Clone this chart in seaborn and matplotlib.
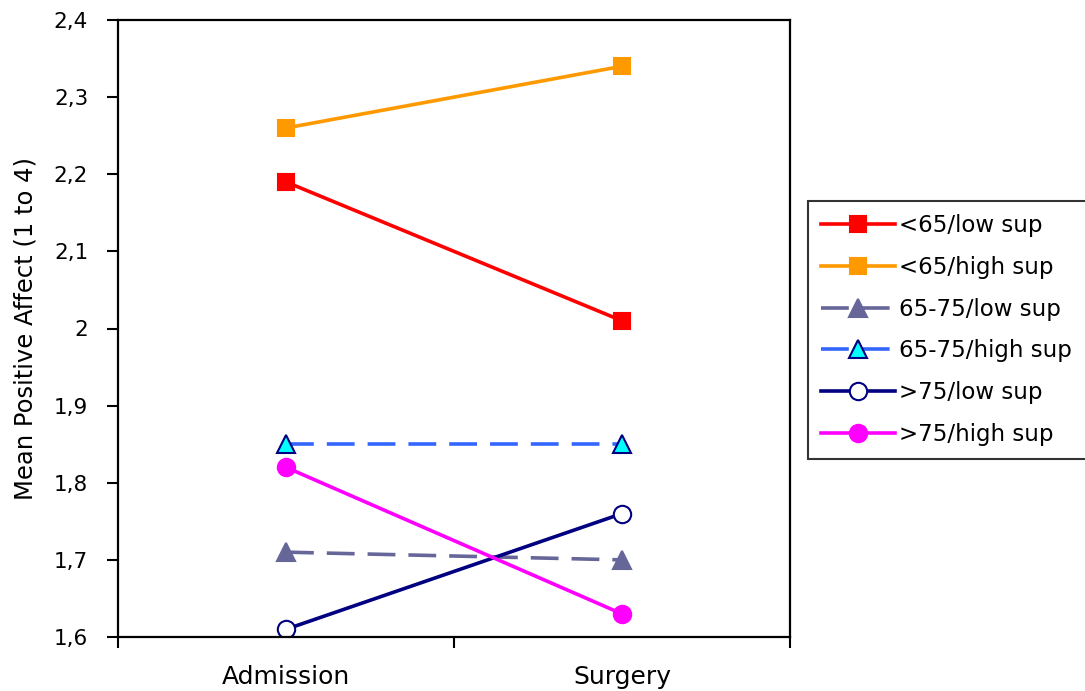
import matplotlib
matplotlib.use('Agg')
import matplotlib.pyplot as plt
from matplotlib.ticker import FuncFormatter, FixedLocator
import seaborn as sns

stages = ['Admission', 'Surgery']
groups = ['<65/low sup', '<65/high sup', '65-75/low sup', '65-75/high sup', '>75/low sup', '>75/high sup']
lt65_low = [2.19, 2.01]
lt65_high = [2.26, 2.34]
mid_low = [1.71, 1.70]
mid_high = [1.85, 1.85]
gt75_low = [1.61, 1.76]
gt75_high = [1.82, 1.63]
values = [lt65_low, lt65_high, mid_low, mid_high, gt75_low, gt75_high]

styles = [
    dict(color='#FF0000', marker='s', markerfacecolor='#FF0000', markeredgecolor='#FF0000', linestyle='-'),
    dict(color='#FF9900', marker='s', markerfacecolor='#FF9900', markeredgecolor='#FF9900', linestyle='-'),
    dict(color='#666699', marker='^', markerfacecolor='#666699', markeredgecolor='#666699', linestyle='--'),
    dict(color='#3366FF', marker='^', markerfacecolor='#00FFFF', markeredgecolor='#000080', linestyle='--'),
    dict(color='#000080', marker='o', markerfacecolor='white', markeredgecolor='#000080', linestyle='-'),
    dict(color='#FF00FF', marker='o', markerfacecolor='#FF00FF', markeredgecolor='#FF00FF', linestyle='-'),
]

fig = plt.figure(figsize=(10.85, 6.91), dpi=100)
ax = fig.add_axes([118/1085, 1 - 637/691, (790-118)/1085, (637-20)/691])

for name, vals, st in zip(groups, values, styles):
    ms = 12 if st['marker'] == 's' else 12.5
    sns.lineplot(x=stages, y=vals, ax=ax, label=name, linewidth=2.6, markersize=ms,
                 markeredgewidth=1.5, sort=False, **st)
    if st['linestyle'] == '--':
        ax.lines[-1].set_dashes((7.7, 3.6))

ax.set_xlim(-0.5, 1.5)
ax.set_ylim(1.6, 2.4)
ax.set_yticks([1.6, 1.7, 1.8, 1.9, 2.0, 2.1, 2.2, 2.3, 2.4])
ax.yaxis.set_major_formatter(FuncFormatter(lambda v, p: f"{round(v, 2):g}".replace('.', ',')))
ax.set_xticks([0, 1], labels=stages)
ax.xaxis.set_minor_locator(FixedLocator([-0.5, 0.5, 1.5]))
ax.tick_params(axis='x', which='major', length=0, pad=20, labelsize=18)
ax.tick_params(axis='x', which='minor', length=8, width=1.5, direction='out')
ax.tick_params(axis='y', length=8, width=1.5, direction='out', labelsize=15.5, pad=13.5)
for s in ax.spines.values():
    s.set_linewidth(1.6)
    s.set_color('black')
ax.set_xlabel('')
ax.set_ylabel('Mean Positive Affect (1 to 4)', fontsize=17.5, labelpad=12)

ax.get_legend().remove()
handles, labels = ax.get_legend_handles_labels()
leg = fig.legend(handles, labels, loc='center left',
                 bbox_to_anchor=(808/1085, 1 - 459/691, 290/1085, 258/691), mode='expand',
                 fontsize=16.5, frameon=True, fancybox=False, edgecolor='black',
                 handlelength=3.25, labelspacing=0.82, borderpad=0.55, handletextpad=0.15,
                 borderaxespad=0)
leg.get_frame().set_linewidth(1.5)

fig.savefig('out.png', dpi=100)
